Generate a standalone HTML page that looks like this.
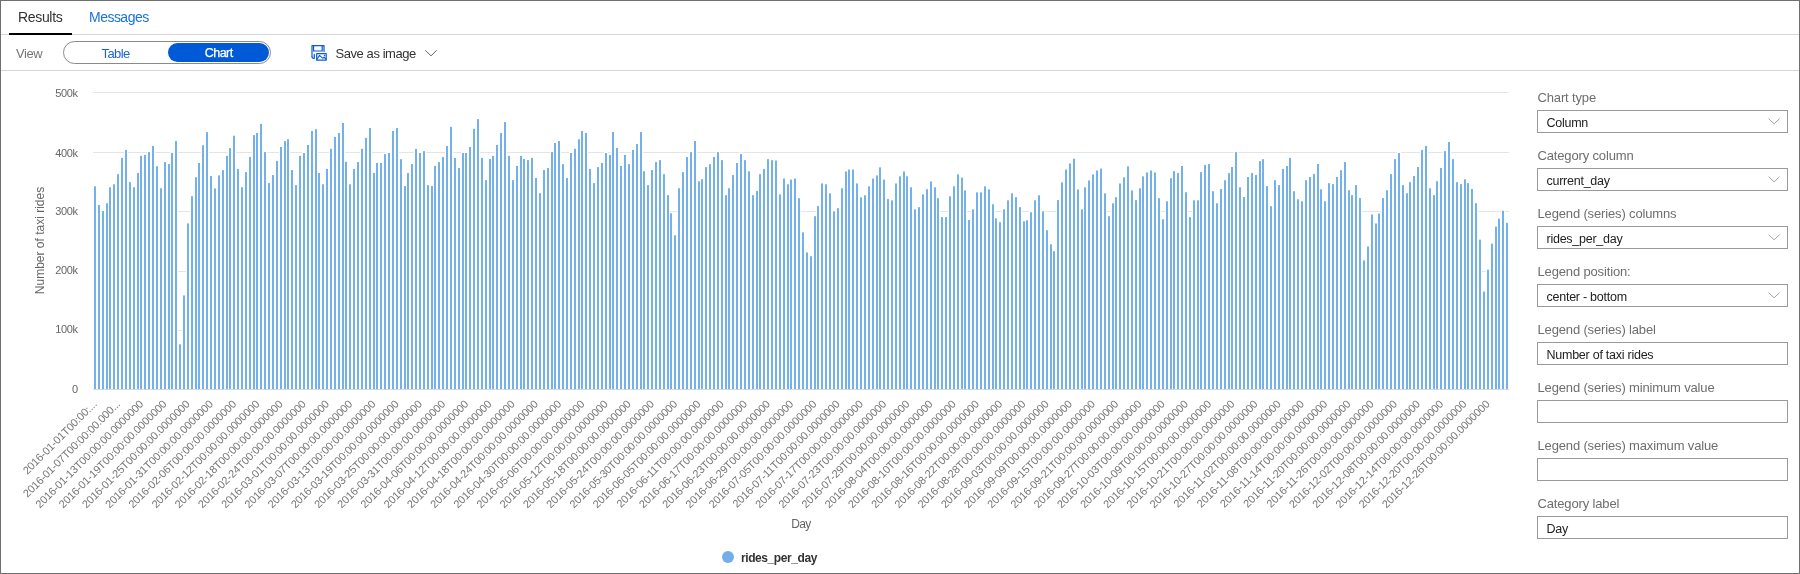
<!DOCTYPE html>
<html><head><meta charset="utf-8">
<style>
html,body{margin:0;padding:0;}
body{width:1800px;height:574px;position:relative;overflow:hidden;background:#fff;font-family:"Liberation Sans",sans-serif;}
.wrap{position:absolute;left:0;top:0;width:1800px;height:574px;will-change:transform;}
.frame{position:absolute;left:0;top:0;width:1798px;height:572px;border:1px solid #6f6f6f;}
.abs{position:absolute;white-space:nowrap;}
.lab{position:absolute;left:1537.5px;font-size:13px;color:#6e6e6e;white-space:nowrap;letter-spacing:-0.15px;}
.box{position:absolute;left:1537px;width:249px;height:21px;border:1px solid #9a9a9a;background:#fff;}
.box span{position:absolute;left:8.5px;top:5px;font-size:12.5px;color:#222;white-space:nowrap;letter-spacing:-0.25px;}
.box .chev{position:absolute;left:230px;top:6.6px;}
</style></head><body><div class="wrap">
<div class="abs" style="left:0;top:34px;width:1800px;height:1px;background:#d6d6d6"></div>
<div class="abs" style="left:9px;top:33px;width:63px;height:2px;background:#000"></div>
<div class="abs" style="left:18px;top:9px;font-size:14px;color:#333;letter-spacing:-0.33px">Results</div>
<div class="abs" style="left:89px;top:9px;font-size:14px;color:#1a73e0;letter-spacing:-0.52px">Messages</div>
<div class="abs" style="left:16px;top:46px;font-size:13px;color:#767676;letter-spacing:-0.4px">View</div>
<div class="abs" style="left:63px;top:41px;width:206px;height:21px;border:1px solid #8a8a8a;border-radius:12px"></div>
<div class="abs" style="left:168px;top:43px;width:101px;height:19px;background:#005ad8;border-radius:10px"></div>
<div class="abs" style="left:101.5px;top:46px;font-size:13px;color:#1f63d8;letter-spacing:-0.6px">Table</div>
<div class="abs" style="left:204.8px;top:46px;font-size:12.5px;color:#fff;letter-spacing:-0.55px;-webkit-text-stroke:0.25px #fff">Chart</div>
<svg class="abs" style="left:308px;top:42px" width="22" height="22" viewBox="0 0 22 22">
<g fill="none" stroke="#0b5ad8" stroke-width="1.2" stroke-linejoin="round" stroke-linecap="round">
<path d="M4 14.8 V3.6 H16 V9.6"/>
<path d="M4 14.8 Q4 16.3 5.5 16.3 H6.3 V12.3"/>
<path d="M5.55 3.7 V9 H14.2 V3.7"/>
<rect x="8.7" y="11.6" width="9.5" height="6.6"/>
<path d="M9.3 16.8 L11.5 13.4 L14.8 16.3 L16.1 15.2 L17.8 17" stroke-width="1.1"/>
</g>
<circle cx="16.5" cy="13.4" r="0.75" fill="#0b5ad8"/>
</svg>
<div class="abs" style="left:335.5px;top:45.6px;font-size:13px;color:#333;letter-spacing:-0.43px">Save as image</div>
<svg class="abs" style="left:424px;top:49px" width="14" height="8" viewBox="0 0 14 8"><path d="M1.3 1.3 L7 6.8 L12.7 1.3" fill="none" stroke="#666" stroke-width="1"/></svg>
<div class="abs" style="left:0;top:70px;width:1800px;height:1px;background:#d6d6d6"></div>
<svg width="1520" height="574" viewBox="0 0 1520 574" style="position:absolute;left:0;top:0">
<g><rect x="93" y="92" width="1416" height="1" fill="#e5e5e5"/><rect x="93" y="152" width="1416" height="1" fill="#e5e5e5"/><rect x="93" y="211" width="1416" height="1" fill="#e5e5e5"/><rect x="93" y="271" width="1416" height="1" fill="#e5e5e5"/><rect x="93" y="330" width="1416" height="1" fill="#e5e5e5"/><rect x="93" y="389" width="1416" height="1" fill="#d3d8ea"/></g>
<g fill="#ffffff"><rect x="93" y="184.81" width="4" height="204.19"/><rect x="97" y="203.53" width="4" height="185.47"/><rect x="101" y="209.58" width="4" height="179.42"/><rect x="105" y="201.75" width="4" height="187.25"/><rect x="108" y="185.76" width="4" height="203.24"/><rect x="112" y="182.80" width="4" height="206.20"/><rect x="116" y="172.72" width="4" height="216.28"/><rect x="120" y="156.43" width="4" height="232.57"/><rect x="124" y="148.43" width="4" height="240.57"/><rect x="128" y="180.66" width="4" height="208.34"/><rect x="132" y="185.76" width="4" height="203.24"/><rect x="136" y="171.54" width="4" height="217.46"/><rect x="139" y="154.35" width="4" height="234.65"/><rect x="143" y="153.47" width="4" height="235.53"/><rect x="147" y="150.56" width="4" height="238.44"/><rect x="151" y="144.46" width="4" height="244.54"/><rect x="155" y="164.78" width="4" height="224.22"/><rect x="159" y="186.76" width="4" height="202.24"/><rect x="163" y="160.58" width="4" height="228.42"/><rect x="167" y="162.53" width="4" height="226.47"/><rect x="170" y="151.39" width="4" height="237.61"/><rect x="174" y="139.54" width="4" height="249.46"/><rect x="178" y="342.83" width="4" height="46.17"/><rect x="182" y="293.95" width="4" height="95.05"/><rect x="186" y="221.90" width="4" height="167.10"/><rect x="190" y="194.65" width="4" height="194.35"/><rect x="194" y="175.69" width="4" height="213.31"/><rect x="197" y="161.47" width="4" height="227.53"/><rect x="201" y="143.69" width="4" height="245.31"/><rect x="205" y="130.65" width="4" height="258.35"/><rect x="209" y="174.50" width="4" height="214.50"/><rect x="213" y="186.94" width="4" height="202.06"/><rect x="217" y="173.91" width="4" height="215.09"/><rect x="221" y="168.57" width="4" height="220.43"/><rect x="225" y="154.35" width="4" height="234.65"/><rect x="228" y="146.65" width="4" height="242.35"/><rect x="232" y="134.21" width="4" height="254.79"/><rect x="236" y="167.39" width="4" height="221.61"/><rect x="240" y="185.76" width="4" height="203.24"/><rect x="244" y="170.65" width="4" height="218.35"/><rect x="248" y="155.54" width="4" height="233.46"/><rect x="252" y="133.62" width="4" height="255.38"/><rect x="255" y="131.48" width="4" height="257.52"/><rect x="259" y="122.36" width="4" height="266.64"/><rect x="263" y="150.56" width="4" height="238.44"/><rect x="267" y="181.61" width="4" height="207.39"/><rect x="271" y="173.55" width="4" height="215.45"/><rect x="275" y="159.39" width="4" height="229.61"/><rect x="279" y="145.47" width="4" height="243.53"/><rect x="283" y="139.54" width="4" height="249.46"/><rect x="286" y="137.76" width="4" height="251.24"/><rect x="290" y="168.57" width="4" height="220.43"/><rect x="294" y="183.62" width="4" height="205.38"/><rect x="298" y="154.35" width="4" height="234.65"/><rect x="302" y="151.51" width="4" height="237.49"/><rect x="306" y="143.45" width="4" height="245.55"/><rect x="310" y="129.47" width="4" height="259.53"/><rect x="314" y="127.69" width="4" height="261.31"/><rect x="317" y="171.54" width="4" height="217.46"/><rect x="321" y="182.80" width="4" height="206.20"/><rect x="325" y="167.39" width="4" height="221.61"/><rect x="329" y="147.36" width="4" height="241.64"/><rect x="333" y="135.40" width="4" height="253.60"/><rect x="337" y="131.48" width="4" height="257.52"/><rect x="341" y="121.41" width="4" height="267.59"/><rect x="344" y="160.28" width="4" height="228.72"/><rect x="348" y="182.80" width="4" height="206.20"/><rect x="352" y="167.39" width="4" height="221.61"/><rect x="356" y="160.58" width="4" height="228.42"/><rect x="360" y="147.36" width="4" height="241.64"/><rect x="364" y="136.34" width="4" height="252.66"/><rect x="368" y="126.51" width="4" height="262.49"/><rect x="372" y="171.54" width="4" height="217.46"/><rect x="375" y="161.47" width="4" height="227.53"/><rect x="379" y="161.47" width="4" height="227.53"/><rect x="383" y="152.58" width="4" height="236.42"/><rect x="387" y="151.51" width="4" height="237.49"/><rect x="391" y="129.47" width="4" height="259.53"/><rect x="395" y="126.51" width="4" height="262.49"/><rect x="399" y="157.67" width="4" height="231.33"/><rect x="403" y="184.57" width="4" height="204.43"/><rect x="406" y="171.54" width="4" height="217.46"/><rect x="410" y="162.65" width="4" height="226.35"/><rect x="414" y="147.36" width="4" height="241.64"/><rect x="418" y="151.51" width="4" height="237.49"/><rect x="422" y="149.62" width="4" height="239.38"/><rect x="426" y="183.62" width="4" height="205.38"/><rect x="430" y="184.57" width="4" height="204.43"/><rect x="433" y="164.43" width="4" height="224.57"/><rect x="437" y="160.58" width="4" height="228.42"/><rect x="441" y="155.54" width="4" height="233.46"/><rect x="445" y="144.46" width="4" height="244.54"/><rect x="449" y="125.32" width="4" height="263.68"/><rect x="453" y="156.43" width="4" height="232.57"/><rect x="457" y="166.44" width="4" height="222.56"/><rect x="461" y="151.51" width="4" height="237.49"/><rect x="464" y="151.51" width="4" height="237.49"/><rect x="468" y="145.47" width="4" height="243.53"/><rect x="472" y="127.28" width="4" height="261.72"/><rect x="476" y="117.62" width="4" height="271.38"/><rect x="480" y="156.43" width="4" height="232.57"/><rect x="484" y="178.65" width="4" height="210.35"/><rect x="488" y="157.44" width="4" height="231.56"/><rect x="491" y="154.35" width="4" height="234.65"/><rect x="495" y="143.45" width="4" height="245.55"/><rect x="499" y="131.48" width="4" height="257.52"/><rect x="503" y="120.58" width="4" height="268.42"/><rect x="507" y="154.35" width="4" height="234.65"/><rect x="511" y="178.65" width="4" height="210.35"/><rect x="515" y="164.43" width="4" height="224.57"/><rect x="519" y="154.35" width="4" height="234.65"/><rect x="522" y="157.44" width="4" height="231.56"/><rect x="526" y="158.62" width="4" height="230.38"/><rect x="530" y="156.43" width="4" height="232.57"/><rect x="534" y="176.51" width="4" height="212.49"/><rect x="538" y="191.68" width="4" height="197.32"/><rect x="542" y="168.57" width="4" height="220.43"/><rect x="546" y="166.44" width="4" height="222.56"/><rect x="550" y="150.56" width="4" height="238.44"/><rect x="553" y="141.50" width="4" height="247.50"/><rect x="557" y="139.54" width="4" height="249.46"/><rect x="561" y="162.65" width="4" height="226.35"/><rect x="565" y="176.51" width="4" height="212.49"/><rect x="569" y="151.51" width="4" height="237.49"/><rect x="573" y="147.36" width="4" height="241.64"/><rect x="577" y="137.76" width="4" height="251.24"/><rect x="580" y="129.47" width="4" height="259.53"/><rect x="584" y="131.48" width="4" height="257.52"/><rect x="588" y="167.39" width="4" height="221.61"/><rect x="592" y="181.61" width="4" height="207.39"/><rect x="596" y="165.61" width="4" height="223.39"/><rect x="600" y="161.47" width="4" height="227.53"/><rect x="604" y="151.51" width="4" height="237.49"/><rect x="608" y="153.47" width="4" height="235.53"/><rect x="611" y="130.48" width="4" height="258.52"/><rect x="615" y="146.42" width="4" height="242.58"/><rect x="619" y="164.43" width="4" height="224.57"/><rect x="623" y="153.47" width="4" height="235.53"/><rect x="627" y="162.65" width="4" height="226.35"/><rect x="631" y="148.43" width="4" height="240.57"/><rect x="635" y="142.50" width="4" height="246.50"/><rect x="639" y="130.48" width="4" height="258.52"/><rect x="642" y="169.76" width="4" height="219.24"/><rect x="646" y="183.62" width="4" height="205.38"/><rect x="650" y="168.57" width="4" height="220.43"/><rect x="654" y="160.58" width="4" height="228.42"/><rect x="658" y="158.62" width="4" height="230.38"/><rect x="662" y="172.72" width="4" height="216.28"/><rect x="666" y="193.64" width="4" height="195.36"/><rect x="669" y="211.83" width="4" height="177.17"/><rect x="673" y="233.75" width="4" height="155.25"/><rect x="677" y="186.76" width="4" height="202.24"/><rect x="681" y="170.65" width="4" height="218.35"/><rect x="685" y="155.54" width="4" height="233.46"/><rect x="689" y="150.56" width="4" height="238.44"/><rect x="693" y="139.54" width="4" height="249.46"/><rect x="697" y="179.83" width="4" height="209.17"/><rect x="700" y="177.76" width="4" height="211.24"/><rect x="704" y="165.61" width="4" height="223.39"/><rect x="708" y="162.65" width="4" height="226.35"/><rect x="712" y="155.54" width="4" height="233.46"/><rect x="716" y="150.56" width="4" height="238.44"/><rect x="720" y="158.62" width="4" height="230.38"/><rect x="724" y="193.64" width="4" height="195.36"/><rect x="727" y="186.76" width="4" height="202.24"/><rect x="731" y="173.55" width="4" height="215.45"/><rect x="735" y="161.47" width="4" height="227.53"/><rect x="739" y="152.58" width="4" height="236.42"/><rect x="743" y="158.62" width="4" height="230.38"/><rect x="747" y="169.76" width="4" height="219.24"/><rect x="751" y="193.64" width="4" height="195.36"/><rect x="755" y="189.49" width="4" height="199.51"/><rect x="758" y="172.72" width="4" height="216.28"/><rect x="762" y="167.39" width="4" height="221.61"/><rect x="766" y="157.67" width="4" height="231.33"/><rect x="770" y="158.62" width="4" height="230.38"/><rect x="774" y="159.09" width="4" height="229.91"/><rect x="778" y="192.87" width="4" height="196.13"/><rect x="782" y="177.05" width="4" height="211.95"/><rect x="786" y="182.80" width="4" height="206.20"/><rect x="789" y="178.06" width="4" height="210.94"/><rect x="793" y="177.05" width="4" height="211.95"/><rect x="797" y="196.72" width="4" height="192.28"/><rect x="801" y="230.91" width="4" height="158.09"/><rect x="805" y="250.93" width="4" height="138.07"/><rect x="809" y="254.72" width="4" height="134.28"/><rect x="813" y="214.67" width="4" height="174.33"/><rect x="816" y="204.72" width="4" height="184.28"/><rect x="820" y="181.91" width="4" height="207.09"/><rect x="824" y="182.80" width="4" height="206.20"/><rect x="828" y="191.86" width="4" height="197.14"/><rect x="832" y="209.81" width="4" height="179.19"/><rect x="836" y="206.67" width="4" height="182.33"/><rect x="840" y="186.76" width="4" height="202.24"/><rect x="844" y="170.00" width="4" height="219.00"/><rect x="847" y="168.04" width="4" height="220.96"/><rect x="851" y="168.04" width="4" height="220.96"/><rect x="855" y="181.91" width="4" height="207.09"/><rect x="859" y="195.83" width="4" height="193.17"/><rect x="863" y="193.76" width="4" height="195.24"/><rect x="867" y="184.81" width="4" height="204.19"/><rect x="871" y="177.05" width="4" height="211.95"/><rect x="875" y="173.91" width="4" height="215.09"/><rect x="878" y="165.85" width="4" height="223.15"/><rect x="882" y="178.06" width="4" height="210.94"/><rect x="886" y="197.61" width="4" height="191.39"/><rect x="890" y="198.85" width="4" height="190.15"/><rect x="894" y="181.91" width="4" height="207.09"/><rect x="898" y="174.86" width="4" height="214.14"/><rect x="902" y="170.00" width="4" height="219.00"/><rect x="905" y="174.86" width="4" height="214.14"/><rect x="909" y="185.76" width="4" height="203.24"/><rect x="913" y="207.86" width="4" height="181.14"/><rect x="917" y="205.67" width="4" height="183.33"/><rect x="921" y="192.87" width="4" height="196.13"/><rect x="925" y="187.71" width="4" height="201.29"/><rect x="929" y="179.95" width="4" height="209.05"/><rect x="933" y="185.76" width="4" height="203.24"/><rect x="936" y="196.72" width="4" height="192.28"/><rect x="940" y="215.62" width="4" height="173.38"/><rect x="944" y="215.62" width="4" height="173.38"/><rect x="948" y="194.76" width="4" height="194.24"/><rect x="952" y="184.81" width="4" height="204.19"/><rect x="956" y="172.90" width="4" height="216.10"/><rect x="960" y="176.04" width="4" height="212.96"/><rect x="963" y="188.90" width="4" height="200.10"/><rect x="967" y="218.52" width="4" height="170.48"/><rect x="971" y="207.86" width="4" height="181.14"/><rect x="975" y="190.85" width="4" height="198.15"/><rect x="979" y="190.85" width="4" height="198.15"/><rect x="983" y="184.81" width="4" height="204.19"/><rect x="987" y="187.95" width="4" height="201.05"/><rect x="991" y="202.76" width="4" height="186.24"/><rect x="994" y="216.86" width="4" height="172.14"/><rect x="998" y="220.72" width="4" height="168.28"/><rect x="1002" y="207.86" width="4" height="181.14"/><rect x="1006" y="198.85" width="4" height="190.15"/><rect x="1010" y="191.86" width="4" height="197.14"/><rect x="1014" y="195.71" width="4" height="193.29"/><rect x="1018" y="205.67" width="4" height="183.33"/><rect x="1022" y="219.77" width="4" height="169.23"/><rect x="1025" y="218.82" width="4" height="170.18"/><rect x="1029" y="210.76" width="4" height="178.24"/><rect x="1033" y="198.85" width="4" height="190.15"/><rect x="1037" y="193.76" width="4" height="195.24"/><rect x="1041" y="209.81" width="4" height="179.19"/><rect x="1045" y="228.77" width="4" height="160.23"/><rect x="1049" y="242.82" width="4" height="146.18"/><rect x="1052" y="249.63" width="4" height="139.37"/><rect x="1056" y="198.61" width="4" height="190.39"/><rect x="1060" y="180.90" width="4" height="208.10"/><rect x="1064" y="168.04" width="4" height="220.96"/><rect x="1068" y="162.00" width="4" height="227.00"/><rect x="1072" y="157.14" width="4" height="231.86"/><rect x="1076" y="187.95" width="4" height="201.05"/><rect x="1080" y="207.86" width="4" height="181.14"/><rect x="1083" y="185.76" width="4" height="203.24"/><rect x="1087" y="178.94" width="4" height="210.06"/><rect x="1091" y="172.90" width="4" height="216.10"/><rect x="1095" y="168.99" width="4" height="220.01"/><rect x="1099" y="167.09" width="4" height="221.91"/><rect x="1103" y="191.86" width="4" height="197.14"/><rect x="1107" y="214.67" width="4" height="174.33"/><rect x="1111" y="201.75" width="4" height="187.25"/><rect x="1114" y="195.71" width="4" height="193.29"/><rect x="1118" y="181.91" width="4" height="207.09"/><rect x="1122" y="175.80" width="4" height="213.20"/><rect x="1126" y="164.90" width="4" height="224.10"/><rect x="1130" y="188.90" width="4" height="200.10"/><rect x="1134" y="198.61" width="4" height="190.39"/><rect x="1138" y="186.76" width="4" height="202.24"/><rect x="1141" y="174.86" width="4" height="214.14"/><rect x="1145" y="170.94" width="4" height="218.06"/><rect x="1149" y="168.99" width="4" height="220.01"/><rect x="1153" y="170.94" width="4" height="218.06"/><rect x="1157" y="196.72" width="4" height="192.28"/><rect x="1161" y="217.75" width="4" height="171.25"/><rect x="1165" y="199.74" width="4" height="189.26"/><rect x="1169" y="176.75" width="4" height="212.25"/><rect x="1172" y="169.64" width="4" height="219.36"/><rect x="1176" y="171.60" width="4" height="217.40"/><rect x="1180" y="164.49" width="4" height="224.51"/><rect x="1184" y="190.73" width="4" height="198.27"/><rect x="1188" y="215.68" width="4" height="173.32"/><rect x="1192" y="198.79" width="4" height="190.21"/><rect x="1196" y="198.79" width="4" height="190.21"/><rect x="1199" y="170.65" width="4" height="218.35"/><rect x="1203" y="163.54" width="4" height="225.46"/><rect x="1207" y="162.53" width="4" height="226.47"/><rect x="1211" y="189.73" width="4" height="199.27"/><rect x="1215" y="201.75" width="4" height="187.25"/><rect x="1219" y="187.53" width="4" height="201.47"/><rect x="1223" y="178.71" width="4" height="210.29"/><rect x="1227" y="171.60" width="4" height="217.40"/><rect x="1230" y="165.49" width="4" height="223.51"/><rect x="1234" y="150.56" width="4" height="238.44"/><rect x="1238" y="185.82" width="4" height="203.18"/><rect x="1242" y="195.59" width="4" height="193.41"/><rect x="1246" y="175.51" width="4" height="213.49"/><rect x="1250" y="171.60" width="4" height="217.40"/><rect x="1254" y="173.55" width="4" height="215.45"/><rect x="1258" y="159.63" width="4" height="229.37"/><rect x="1261" y="157.67" width="4" height="231.33"/><rect x="1265" y="184.57" width="4" height="204.43"/><rect x="1269" y="204.72" width="4" height="184.28"/><rect x="1273" y="178.71" width="4" height="210.29"/><rect x="1277" y="183.62" width="4" height="205.38"/><rect x="1281" y="167.45" width="4" height="221.55"/><rect x="1285" y="164.49" width="4" height="224.51"/><rect x="1288" y="156.43" width="4" height="232.57"/><rect x="1292" y="189.73" width="4" height="199.27"/><rect x="1296" y="197.79" width="4" height="191.21"/><rect x="1300" y="199.74" width="4" height="189.26"/><rect x="1304" y="178.71" width="4" height="210.29"/><rect x="1308" y="175.51" width="4" height="213.49"/><rect x="1312" y="172.60" width="4" height="216.40"/><rect x="1316" y="162.53" width="4" height="226.47"/><rect x="1319" y="187.77" width="4" height="201.23"/><rect x="1323" y="199.74" width="4" height="189.26"/><rect x="1327" y="181.67" width="4" height="207.33"/><rect x="1331" y="182.62" width="4" height="206.38"/><rect x="1335" y="175.51" width="4" height="213.49"/><rect x="1339" y="168.69" width="4" height="220.31"/><rect x="1343" y="160.58" width="4" height="228.42"/><rect x="1347" y="188.72" width="4" height="200.28"/><rect x="1350" y="193.64" width="4" height="195.36"/><rect x="1354" y="183.62" width="4" height="205.38"/><rect x="1358" y="196.60" width="4" height="192.40"/><rect x="1362" y="258.93" width="4" height="130.07"/><rect x="1366" y="245.01" width="4" height="143.99"/><rect x="1370" y="213.01" width="4" height="175.99"/><rect x="1374" y="221.90" width="4" height="167.10"/><rect x="1377" y="212.01" width="4" height="176.99"/><rect x="1381" y="196.60" width="4" height="192.40"/><rect x="1385" y="188.72" width="4" height="200.28"/><rect x="1389" y="172.60" width="4" height="216.40"/><rect x="1393" y="157.67" width="4" height="231.33"/><rect x="1397" y="151.51" width="4" height="237.49"/><rect x="1401" y="183.62" width="4" height="205.38"/><rect x="1405" y="191.68" width="4" height="197.32"/><rect x="1408" y="180.66" width="4" height="208.34"/><rect x="1412" y="174.50" width="4" height="214.50"/><rect x="1416" y="165.49" width="4" height="223.51"/><rect x="1420" y="148.61" width="4" height="240.39"/><rect x="1424" y="144.46" width="4" height="244.54"/><rect x="1428" y="186.76" width="4" height="202.24"/><rect x="1432" y="193.64" width="4" height="195.36"/><rect x="1435" y="179.71" width="4" height="209.29"/><rect x="1439" y="166.44" width="4" height="222.56"/><rect x="1443" y="149.62" width="4" height="239.38"/><rect x="1447" y="140.49" width="4" height="248.51"/><rect x="1451" y="157.67" width="4" height="231.33"/><rect x="1455" y="180.66" width="4" height="208.34"/><rect x="1459" y="182.62" width="4" height="206.38"/><rect x="1463" y="177.76" width="4" height="211.24"/><rect x="1466" y="181.61" width="4" height="207.39"/><rect x="1470" y="187.53" width="4" height="201.47"/><rect x="1474" y="201.75" width="4" height="187.25"/><rect x="1478" y="238.19" width="4" height="150.81"/><rect x="1482" y="290.04" width="4" height="98.96"/><rect x="1486" y="268.12" width="4" height="120.88"/><rect x="1490" y="242.16" width="4" height="146.84"/><rect x="1494" y="225.10" width="4" height="163.90"/><rect x="1497" y="217.16" width="4" height="171.84"/><rect x="1501" y="209.28" width="4" height="179.72"/><rect x="1505" y="221.31" width="4" height="167.69"/></g>
<g fill="#74b1ea"><rect x="94" y="186.31" width="2" height="202.69"/><rect x="98" y="205.03" width="2" height="183.97"/><rect x="102" y="211.08" width="2" height="177.92"/><rect x="106" y="203.25" width="2" height="185.75"/><rect x="109" y="187.26" width="2" height="201.74"/><rect x="113" y="184.30" width="2" height="204.70"/><rect x="117" y="174.22" width="2" height="214.78"/><rect x="121" y="157.93" width="2" height="231.07"/><rect x="125" y="149.93" width="2" height="239.07"/><rect x="129" y="182.16" width="2" height="206.84"/><rect x="133" y="187.26" width="2" height="201.74"/><rect x="137" y="173.04" width="2" height="215.96"/><rect x="140" y="155.85" width="2" height="233.15"/><rect x="144" y="154.97" width="2" height="234.03"/><rect x="148" y="152.06" width="2" height="236.94"/><rect x="152" y="145.96" width="2" height="243.04"/><rect x="156" y="166.28" width="2" height="222.72"/><rect x="160" y="188.26" width="2" height="200.74"/><rect x="164" y="162.08" width="2" height="226.92"/><rect x="168" y="164.03" width="2" height="224.97"/><rect x="171" y="152.89" width="2" height="236.11"/><rect x="175" y="141.04" width="2" height="247.96"/><rect x="179" y="344.33" width="2" height="44.67"/><rect x="183" y="295.45" width="2" height="93.55"/><rect x="187" y="223.40" width="2" height="165.60"/><rect x="191" y="196.15" width="2" height="192.85"/><rect x="195" y="177.19" width="2" height="211.81"/><rect x="198" y="162.97" width="2" height="226.03"/><rect x="202" y="145.19" width="2" height="243.81"/><rect x="206" y="132.15" width="2" height="256.85"/><rect x="210" y="176.00" width="2" height="213.00"/><rect x="214" y="188.44" width="2" height="200.56"/><rect x="218" y="175.41" width="2" height="213.59"/><rect x="222" y="170.07" width="2" height="218.93"/><rect x="226" y="155.85" width="2" height="233.15"/><rect x="229" y="148.15" width="2" height="240.85"/><rect x="233" y="135.71" width="2" height="253.29"/><rect x="237" y="168.89" width="2" height="220.11"/><rect x="241" y="187.26" width="2" height="201.74"/><rect x="245" y="172.15" width="2" height="216.85"/><rect x="249" y="157.04" width="2" height="231.96"/><rect x="253" y="135.12" width="2" height="253.88"/><rect x="256" y="132.98" width="2" height="256.02"/><rect x="260" y="123.86" width="2" height="265.14"/><rect x="264" y="152.06" width="2" height="236.94"/><rect x="268" y="183.11" width="2" height="205.89"/><rect x="272" y="175.05" width="2" height="213.95"/><rect x="276" y="160.89" width="2" height="228.11"/><rect x="280" y="146.97" width="2" height="242.03"/><rect x="284" y="141.04" width="2" height="247.96"/><rect x="287" y="139.26" width="2" height="249.74"/><rect x="291" y="170.07" width="2" height="218.93"/><rect x="295" y="185.12" width="2" height="203.88"/><rect x="299" y="155.85" width="2" height="233.15"/><rect x="303" y="153.01" width="2" height="235.99"/><rect x="307" y="144.95" width="2" height="244.05"/><rect x="311" y="130.97" width="2" height="258.03"/><rect x="315" y="129.19" width="2" height="259.81"/><rect x="318" y="173.04" width="2" height="215.96"/><rect x="322" y="184.30" width="2" height="204.70"/><rect x="326" y="168.89" width="2" height="220.11"/><rect x="330" y="148.86" width="2" height="240.14"/><rect x="334" y="136.90" width="2" height="252.10"/><rect x="338" y="132.98" width="2" height="256.02"/><rect x="342" y="122.91" width="2" height="266.09"/><rect x="345" y="161.78" width="2" height="227.22"/><rect x="349" y="184.30" width="2" height="204.70"/><rect x="353" y="168.89" width="2" height="220.11"/><rect x="357" y="162.08" width="2" height="226.92"/><rect x="361" y="148.86" width="2" height="240.14"/><rect x="365" y="137.84" width="2" height="251.16"/><rect x="369" y="128.01" width="2" height="260.99"/><rect x="373" y="173.04" width="2" height="215.96"/><rect x="376" y="162.97" width="2" height="226.03"/><rect x="380" y="162.97" width="2" height="226.03"/><rect x="384" y="154.08" width="2" height="234.92"/><rect x="388" y="153.01" width="2" height="235.99"/><rect x="392" y="130.97" width="2" height="258.03"/><rect x="396" y="128.01" width="2" height="260.99"/><rect x="400" y="159.17" width="2" height="229.83"/><rect x="404" y="186.07" width="2" height="202.93"/><rect x="407" y="173.04" width="2" height="215.96"/><rect x="411" y="164.15" width="2" height="224.85"/><rect x="415" y="148.86" width="2" height="240.14"/><rect x="419" y="153.01" width="2" height="235.99"/><rect x="423" y="151.12" width="2" height="237.88"/><rect x="427" y="185.12" width="2" height="203.88"/><rect x="431" y="186.07" width="2" height="202.93"/><rect x="434" y="165.93" width="2" height="223.07"/><rect x="438" y="162.08" width="2" height="226.92"/><rect x="442" y="157.04" width="2" height="231.96"/><rect x="446" y="145.96" width="2" height="243.04"/><rect x="450" y="126.82" width="2" height="262.18"/><rect x="454" y="157.93" width="2" height="231.07"/><rect x="458" y="167.94" width="2" height="221.06"/><rect x="462" y="153.01" width="2" height="235.99"/><rect x="465" y="153.01" width="2" height="235.99"/><rect x="469" y="146.97" width="2" height="242.03"/><rect x="473" y="128.78" width="2" height="260.22"/><rect x="477" y="119.12" width="2" height="269.88"/><rect x="481" y="157.93" width="2" height="231.07"/><rect x="485" y="180.15" width="2" height="208.85"/><rect x="489" y="158.94" width="2" height="230.06"/><rect x="492" y="155.85" width="2" height="233.15"/><rect x="496" y="144.95" width="2" height="244.05"/><rect x="500" y="132.98" width="2" height="256.02"/><rect x="504" y="122.08" width="2" height="266.92"/><rect x="508" y="155.85" width="2" height="233.15"/><rect x="512" y="180.15" width="2" height="208.85"/><rect x="516" y="165.93" width="2" height="223.07"/><rect x="520" y="155.85" width="2" height="233.15"/><rect x="523" y="158.94" width="2" height="230.06"/><rect x="527" y="160.12" width="2" height="228.88"/><rect x="531" y="157.93" width="2" height="231.07"/><rect x="535" y="178.01" width="2" height="210.99"/><rect x="539" y="193.18" width="2" height="195.82"/><rect x="543" y="170.07" width="2" height="218.93"/><rect x="547" y="167.94" width="2" height="221.06"/><rect x="551" y="152.06" width="2" height="236.94"/><rect x="554" y="143.00" width="2" height="246.00"/><rect x="558" y="141.04" width="2" height="247.96"/><rect x="562" y="164.15" width="2" height="224.85"/><rect x="566" y="178.01" width="2" height="210.99"/><rect x="570" y="153.01" width="2" height="235.99"/><rect x="574" y="148.86" width="2" height="240.14"/><rect x="578" y="139.26" width="2" height="249.74"/><rect x="581" y="130.97" width="2" height="258.03"/><rect x="585" y="132.98" width="2" height="256.02"/><rect x="589" y="168.89" width="2" height="220.11"/><rect x="593" y="183.11" width="2" height="205.89"/><rect x="597" y="167.11" width="2" height="221.89"/><rect x="601" y="162.97" width="2" height="226.03"/><rect x="605" y="153.01" width="2" height="235.99"/><rect x="609" y="154.97" width="2" height="234.03"/><rect x="612" y="131.98" width="2" height="257.02"/><rect x="616" y="147.92" width="2" height="241.08"/><rect x="620" y="165.93" width="2" height="223.07"/><rect x="624" y="154.97" width="2" height="234.03"/><rect x="628" y="164.15" width="2" height="224.85"/><rect x="632" y="149.93" width="2" height="239.07"/><rect x="636" y="144.00" width="2" height="245.00"/><rect x="640" y="131.98" width="2" height="257.02"/><rect x="643" y="171.26" width="2" height="217.74"/><rect x="647" y="185.12" width="2" height="203.88"/><rect x="651" y="170.07" width="2" height="218.93"/><rect x="655" y="162.08" width="2" height="226.92"/><rect x="659" y="160.12" width="2" height="228.88"/><rect x="663" y="174.22" width="2" height="214.78"/><rect x="667" y="195.14" width="2" height="193.86"/><rect x="670" y="213.33" width="2" height="175.67"/><rect x="674" y="235.25" width="2" height="153.75"/><rect x="678" y="188.26" width="2" height="200.74"/><rect x="682" y="172.15" width="2" height="216.85"/><rect x="686" y="157.04" width="2" height="231.96"/><rect x="690" y="152.06" width="2" height="236.94"/><rect x="694" y="141.04" width="2" height="247.96"/><rect x="698" y="181.33" width="2" height="207.67"/><rect x="701" y="179.26" width="2" height="209.74"/><rect x="705" y="167.11" width="2" height="221.89"/><rect x="709" y="164.15" width="2" height="224.85"/><rect x="713" y="157.04" width="2" height="231.96"/><rect x="717" y="152.06" width="2" height="236.94"/><rect x="721" y="160.12" width="2" height="228.88"/><rect x="725" y="195.14" width="2" height="193.86"/><rect x="728" y="188.26" width="2" height="200.74"/><rect x="732" y="175.05" width="2" height="213.95"/><rect x="736" y="162.97" width="2" height="226.03"/><rect x="740" y="154.08" width="2" height="234.92"/><rect x="744" y="160.12" width="2" height="228.88"/><rect x="748" y="171.26" width="2" height="217.74"/><rect x="752" y="195.14" width="2" height="193.86"/><rect x="756" y="190.99" width="2" height="198.01"/><rect x="759" y="174.22" width="2" height="214.78"/><rect x="763" y="168.89" width="2" height="220.11"/><rect x="767" y="159.17" width="2" height="229.83"/><rect x="771" y="160.12" width="2" height="228.88"/><rect x="775" y="160.59" width="2" height="228.41"/><rect x="779" y="194.37" width="2" height="194.63"/><rect x="783" y="178.55" width="2" height="210.45"/><rect x="787" y="184.30" width="2" height="204.70"/><rect x="790" y="179.56" width="2" height="209.44"/><rect x="794" y="178.55" width="2" height="210.45"/><rect x="798" y="198.22" width="2" height="190.78"/><rect x="802" y="232.41" width="2" height="156.59"/><rect x="806" y="252.43" width="2" height="136.57"/><rect x="810" y="256.22" width="2" height="132.78"/><rect x="814" y="216.17" width="2" height="172.83"/><rect x="817" y="206.22" width="2" height="182.78"/><rect x="821" y="183.41" width="2" height="205.59"/><rect x="825" y="184.30" width="2" height="204.70"/><rect x="829" y="193.36" width="2" height="195.64"/><rect x="833" y="211.31" width="2" height="177.69"/><rect x="837" y="208.17" width="2" height="180.83"/><rect x="841" y="188.26" width="2" height="200.74"/><rect x="845" y="171.50" width="2" height="217.50"/><rect x="848" y="169.54" width="2" height="219.46"/><rect x="852" y="169.54" width="2" height="219.46"/><rect x="856" y="183.41" width="2" height="205.59"/><rect x="860" y="197.33" width="2" height="191.67"/><rect x="864" y="195.26" width="2" height="193.74"/><rect x="868" y="186.31" width="2" height="202.69"/><rect x="872" y="178.55" width="2" height="210.45"/><rect x="876" y="175.41" width="2" height="213.59"/><rect x="879" y="167.35" width="2" height="221.65"/><rect x="883" y="179.56" width="2" height="209.44"/><rect x="887" y="199.11" width="2" height="189.89"/><rect x="891" y="200.35" width="2" height="188.65"/><rect x="895" y="183.41" width="2" height="205.59"/><rect x="899" y="176.36" width="2" height="212.64"/><rect x="903" y="171.50" width="2" height="217.50"/><rect x="906" y="176.36" width="2" height="212.64"/><rect x="910" y="187.26" width="2" height="201.74"/><rect x="914" y="209.36" width="2" height="179.64"/><rect x="918" y="207.17" width="2" height="181.83"/><rect x="922" y="194.37" width="2" height="194.63"/><rect x="926" y="189.21" width="2" height="199.79"/><rect x="930" y="181.45" width="2" height="207.55"/><rect x="934" y="187.26" width="2" height="201.74"/><rect x="937" y="198.22" width="2" height="190.78"/><rect x="941" y="217.12" width="2" height="171.88"/><rect x="945" y="217.12" width="2" height="171.88"/><rect x="949" y="196.26" width="2" height="192.74"/><rect x="953" y="186.31" width="2" height="202.69"/><rect x="957" y="174.40" width="2" height="214.60"/><rect x="961" y="177.54" width="2" height="211.46"/><rect x="964" y="190.40" width="2" height="198.60"/><rect x="968" y="220.02" width="2" height="168.98"/><rect x="972" y="209.36" width="2" height="179.64"/><rect x="976" y="192.35" width="2" height="196.65"/><rect x="980" y="192.35" width="2" height="196.65"/><rect x="984" y="186.31" width="2" height="202.69"/><rect x="988" y="189.45" width="2" height="199.55"/><rect x="992" y="204.26" width="2" height="184.74"/><rect x="995" y="218.36" width="2" height="170.64"/><rect x="999" y="222.22" width="2" height="166.78"/><rect x="1003" y="209.36" width="2" height="179.64"/><rect x="1007" y="200.35" width="2" height="188.65"/><rect x="1011" y="193.36" width="2" height="195.64"/><rect x="1015" y="197.21" width="2" height="191.79"/><rect x="1019" y="207.17" width="2" height="181.83"/><rect x="1023" y="221.27" width="2" height="167.73"/><rect x="1026" y="220.32" width="2" height="168.68"/><rect x="1030" y="212.26" width="2" height="176.74"/><rect x="1034" y="200.35" width="2" height="188.65"/><rect x="1038" y="195.26" width="2" height="193.74"/><rect x="1042" y="211.31" width="2" height="177.69"/><rect x="1046" y="230.27" width="2" height="158.73"/><rect x="1050" y="244.32" width="2" height="144.68"/><rect x="1053" y="251.13" width="2" height="137.87"/><rect x="1057" y="200.11" width="2" height="188.89"/><rect x="1061" y="182.40" width="2" height="206.60"/><rect x="1065" y="169.54" width="2" height="219.46"/><rect x="1069" y="163.50" width="2" height="225.50"/><rect x="1073" y="158.64" width="2" height="230.36"/><rect x="1077" y="189.45" width="2" height="199.55"/><rect x="1081" y="209.36" width="2" height="179.64"/><rect x="1084" y="187.26" width="2" height="201.74"/><rect x="1088" y="180.44" width="2" height="208.56"/><rect x="1092" y="174.40" width="2" height="214.60"/><rect x="1096" y="170.49" width="2" height="218.51"/><rect x="1100" y="168.59" width="2" height="220.41"/><rect x="1104" y="193.36" width="2" height="195.64"/><rect x="1108" y="216.17" width="2" height="172.83"/><rect x="1112" y="203.25" width="2" height="185.75"/><rect x="1115" y="197.21" width="2" height="191.79"/><rect x="1119" y="183.41" width="2" height="205.59"/><rect x="1123" y="177.30" width="2" height="211.70"/><rect x="1127" y="166.40" width="2" height="222.60"/><rect x="1131" y="190.40" width="2" height="198.60"/><rect x="1135" y="200.11" width="2" height="188.89"/><rect x="1139" y="188.26" width="2" height="200.74"/><rect x="1142" y="176.36" width="2" height="212.64"/><rect x="1146" y="172.44" width="2" height="216.56"/><rect x="1150" y="170.49" width="2" height="218.51"/><rect x="1154" y="172.44" width="2" height="216.56"/><rect x="1158" y="198.22" width="2" height="190.78"/><rect x="1162" y="219.25" width="2" height="169.75"/><rect x="1166" y="201.24" width="2" height="187.76"/><rect x="1170" y="178.25" width="2" height="210.75"/><rect x="1173" y="171.14" width="2" height="217.86"/><rect x="1177" y="173.10" width="2" height="215.90"/><rect x="1181" y="165.99" width="2" height="223.01"/><rect x="1185" y="192.23" width="2" height="196.77"/><rect x="1189" y="217.18" width="2" height="171.82"/><rect x="1193" y="200.29" width="2" height="188.71"/><rect x="1197" y="200.29" width="2" height="188.71"/><rect x="1200" y="172.15" width="2" height="216.85"/><rect x="1204" y="165.04" width="2" height="223.96"/><rect x="1208" y="164.03" width="2" height="224.97"/><rect x="1212" y="191.23" width="2" height="197.77"/><rect x="1216" y="203.25" width="2" height="185.75"/><rect x="1220" y="189.03" width="2" height="199.97"/><rect x="1224" y="180.21" width="2" height="208.79"/><rect x="1228" y="173.10" width="2" height="215.90"/><rect x="1231" y="166.99" width="2" height="222.01"/><rect x="1235" y="152.06" width="2" height="236.94"/><rect x="1239" y="187.32" width="2" height="201.68"/><rect x="1243" y="197.09" width="2" height="191.91"/><rect x="1247" y="177.01" width="2" height="211.99"/><rect x="1251" y="173.10" width="2" height="215.90"/><rect x="1255" y="175.05" width="2" height="213.95"/><rect x="1259" y="161.13" width="2" height="227.87"/><rect x="1262" y="159.17" width="2" height="229.83"/><rect x="1266" y="186.07" width="2" height="202.93"/><rect x="1270" y="206.22" width="2" height="182.78"/><rect x="1274" y="180.21" width="2" height="208.79"/><rect x="1278" y="185.12" width="2" height="203.88"/><rect x="1282" y="168.95" width="2" height="220.05"/><rect x="1286" y="165.99" width="2" height="223.01"/><rect x="1289" y="157.93" width="2" height="231.07"/><rect x="1293" y="191.23" width="2" height="197.77"/><rect x="1297" y="199.29" width="2" height="189.71"/><rect x="1301" y="201.24" width="2" height="187.76"/><rect x="1305" y="180.21" width="2" height="208.79"/><rect x="1309" y="177.01" width="2" height="211.99"/><rect x="1313" y="174.10" width="2" height="214.90"/><rect x="1317" y="164.03" width="2" height="224.97"/><rect x="1320" y="189.27" width="2" height="199.73"/><rect x="1324" y="201.24" width="2" height="187.76"/><rect x="1328" y="183.17" width="2" height="205.83"/><rect x="1332" y="184.12" width="2" height="204.88"/><rect x="1336" y="177.01" width="2" height="211.99"/><rect x="1340" y="170.19" width="2" height="218.81"/><rect x="1344" y="162.08" width="2" height="226.92"/><rect x="1348" y="190.22" width="2" height="198.78"/><rect x="1351" y="195.14" width="2" height="193.86"/><rect x="1355" y="185.12" width="2" height="203.88"/><rect x="1359" y="198.10" width="2" height="190.90"/><rect x="1363" y="260.43" width="2" height="128.57"/><rect x="1367" y="246.51" width="2" height="142.49"/><rect x="1371" y="214.51" width="2" height="174.49"/><rect x="1375" y="223.40" width="2" height="165.60"/><rect x="1378" y="213.51" width="2" height="175.49"/><rect x="1382" y="198.10" width="2" height="190.90"/><rect x="1386" y="190.22" width="2" height="198.78"/><rect x="1390" y="174.10" width="2" height="214.90"/><rect x="1394" y="159.17" width="2" height="229.83"/><rect x="1398" y="153.01" width="2" height="235.99"/><rect x="1402" y="185.12" width="2" height="203.88"/><rect x="1406" y="193.18" width="2" height="195.82"/><rect x="1409" y="182.16" width="2" height="206.84"/><rect x="1413" y="176.00" width="2" height="213.00"/><rect x="1417" y="166.99" width="2" height="222.01"/><rect x="1421" y="150.11" width="2" height="238.89"/><rect x="1425" y="145.96" width="2" height="243.04"/><rect x="1429" y="188.26" width="2" height="200.74"/><rect x="1433" y="195.14" width="2" height="193.86"/><rect x="1436" y="181.21" width="2" height="207.79"/><rect x="1440" y="167.94" width="2" height="221.06"/><rect x="1444" y="151.12" width="2" height="237.88"/><rect x="1448" y="141.99" width="2" height="247.01"/><rect x="1452" y="159.17" width="2" height="229.83"/><rect x="1456" y="182.16" width="2" height="206.84"/><rect x="1460" y="184.12" width="2" height="204.88"/><rect x="1464" y="179.26" width="2" height="209.74"/><rect x="1467" y="183.11" width="2" height="205.89"/><rect x="1471" y="189.03" width="2" height="199.97"/><rect x="1475" y="203.25" width="2" height="185.75"/><rect x="1479" y="239.69" width="2" height="149.31"/><rect x="1483" y="291.54" width="2" height="97.46"/><rect x="1487" y="269.62" width="2" height="119.38"/><rect x="1491" y="243.66" width="2" height="145.34"/><rect x="1495" y="226.60" width="2" height="162.40"/><rect x="1498" y="218.66" width="2" height="170.34"/><rect x="1502" y="210.78" width="2" height="178.22"/><rect x="1506" y="222.81" width="2" height="166.19"/></g>
<g font-family="Liberation Sans, sans-serif" font-size="11" fill="#666666" letter-spacing="-0.3"><text x="77.8" y="97" text-anchor="end">500k</text><text x="77.8" y="156.5" text-anchor="end">400k</text><text x="77.8" y="215" text-anchor="end">300k</text><text x="77.8" y="274" text-anchor="end">200k</text><text x="77.8" y="333" text-anchor="end">100k</text><text x="77.8" y="393" text-anchor="end">0</text></g>
<g font-family="Liberation Sans, sans-serif" font-size="11" fill="#767676" letter-spacing="-0.17"><text transform="translate(94.93,402) rotate(-45)" text-anchor="end" dy="0.35em">2016-01-01T00:00:...</text><text transform="translate(118.15,402) rotate(-45)" text-anchor="end" dy="0.35em">2016-01-07T00:00:00.000...</text><text transform="translate(141.36,402) rotate(-45)" text-anchor="end" dy="0.35em">2016-01-13T00:00:00.0000000</text><text transform="translate(164.57,402) rotate(-45)" text-anchor="end" dy="0.35em">2016-01-19T00:00:00.0000000</text><text transform="translate(187.79,402) rotate(-45)" text-anchor="end" dy="0.35em">2016-01-25T00:00:00.0000000</text><text transform="translate(211.00,402) rotate(-45)" text-anchor="end" dy="0.35em">2016-01-31T00:00:00.0000000</text><text transform="translate(234.21,402) rotate(-45)" text-anchor="end" dy="0.35em">2016-02-06T00:00:00.0000000</text><text transform="translate(257.43,402) rotate(-45)" text-anchor="end" dy="0.35em">2016-02-12T00:00:00.0000000</text><text transform="translate(280.64,402) rotate(-45)" text-anchor="end" dy="0.35em">2016-02-18T00:00:00.0000000</text><text transform="translate(303.85,402) rotate(-45)" text-anchor="end" dy="0.35em">2016-02-24T00:00:00.0000000</text><text transform="translate(327.07,402) rotate(-45)" text-anchor="end" dy="0.35em">2016-03-01T00:00:00.0000000</text><text transform="translate(350.28,402) rotate(-45)" text-anchor="end" dy="0.35em">2016-03-07T00:00:00.0000000</text><text transform="translate(373.49,402) rotate(-45)" text-anchor="end" dy="0.35em">2016-03-13T00:00:00.0000000</text><text transform="translate(396.70,402) rotate(-45)" text-anchor="end" dy="0.35em">2016-03-19T00:00:00.0000000</text><text transform="translate(419.92,402) rotate(-45)" text-anchor="end" dy="0.35em">2016-03-25T00:00:00.0000000</text><text transform="translate(443.13,402) rotate(-45)" text-anchor="end" dy="0.35em">2016-03-31T00:00:00.0000000</text><text transform="translate(466.34,402) rotate(-45)" text-anchor="end" dy="0.35em">2016-04-06T00:00:00.0000000</text><text transform="translate(489.56,402) rotate(-45)" text-anchor="end" dy="0.35em">2016-04-12T00:00:00.0000000</text><text transform="translate(512.77,402) rotate(-45)" text-anchor="end" dy="0.35em">2016-04-18T00:00:00.0000000</text><text transform="translate(535.98,402) rotate(-45)" text-anchor="end" dy="0.35em">2016-04-24T00:00:00.0000000</text><text transform="translate(559.20,402) rotate(-45)" text-anchor="end" dy="0.35em">2016-04-30T00:00:00.0000000</text><text transform="translate(582.41,402) rotate(-45)" text-anchor="end" dy="0.35em">2016-05-06T00:00:00.0000000</text><text transform="translate(605.62,402) rotate(-45)" text-anchor="end" dy="0.35em">2016-05-12T00:00:00.0000000</text><text transform="translate(628.84,402) rotate(-45)" text-anchor="end" dy="0.35em">2016-05-18T00:00:00.0000000</text><text transform="translate(652.05,402) rotate(-45)" text-anchor="end" dy="0.35em">2016-05-24T00:00:00.0000000</text><text transform="translate(675.26,402) rotate(-45)" text-anchor="end" dy="0.35em">2016-05-30T00:00:00.0000000</text><text transform="translate(698.48,402) rotate(-45)" text-anchor="end" dy="0.35em">2016-06-05T00:00:00.0000000</text><text transform="translate(721.69,402) rotate(-45)" text-anchor="end" dy="0.35em">2016-06-11T00:00:00.0000000</text><text transform="translate(744.90,402) rotate(-45)" text-anchor="end" dy="0.35em">2016-06-17T00:00:00.0000000</text><text transform="translate(768.11,402) rotate(-45)" text-anchor="end" dy="0.35em">2016-06-23T00:00:00.0000000</text><text transform="translate(791.33,402) rotate(-45)" text-anchor="end" dy="0.35em">2016-06-29T00:00:00.0000000</text><text transform="translate(814.54,402) rotate(-45)" text-anchor="end" dy="0.35em">2016-07-05T00:00:00.0000000</text><text transform="translate(837.75,402) rotate(-45)" text-anchor="end" dy="0.35em">2016-07-11T00:00:00.0000000</text><text transform="translate(860.97,402) rotate(-45)" text-anchor="end" dy="0.35em">2016-07-17T00:00:00.0000000</text><text transform="translate(884.18,402) rotate(-45)" text-anchor="end" dy="0.35em">2016-07-23T00:00:00.0000000</text><text transform="translate(907.39,402) rotate(-45)" text-anchor="end" dy="0.35em">2016-07-29T00:00:00.0000000</text><text transform="translate(930.61,402) rotate(-45)" text-anchor="end" dy="0.35em">2016-08-04T00:00:00.0000000</text><text transform="translate(953.82,402) rotate(-45)" text-anchor="end" dy="0.35em">2016-08-10T00:00:00.0000000</text><text transform="translate(977.03,402) rotate(-45)" text-anchor="end" dy="0.35em">2016-08-16T00:00:00.0000000</text><text transform="translate(1000.25,402) rotate(-45)" text-anchor="end" dy="0.35em">2016-08-22T00:00:00.0000000</text><text transform="translate(1023.46,402) rotate(-45)" text-anchor="end" dy="0.35em">2016-08-28T00:00:00.0000000</text><text transform="translate(1046.67,402) rotate(-45)" text-anchor="end" dy="0.35em">2016-09-03T00:00:00.0000000</text><text transform="translate(1069.89,402) rotate(-45)" text-anchor="end" dy="0.35em">2016-09-09T00:00:00.0000000</text><text transform="translate(1093.10,402) rotate(-45)" text-anchor="end" dy="0.35em">2016-09-15T00:00:00.0000000</text><text transform="translate(1116.31,402) rotate(-45)" text-anchor="end" dy="0.35em">2016-09-21T00:00:00.0000000</text><text transform="translate(1139.52,402) rotate(-45)" text-anchor="end" dy="0.35em">2016-09-27T00:00:00.0000000</text><text transform="translate(1162.74,402) rotate(-45)" text-anchor="end" dy="0.35em">2016-10-03T00:00:00.0000000</text><text transform="translate(1185.95,402) rotate(-45)" text-anchor="end" dy="0.35em">2016-10-09T00:00:00.0000000</text><text transform="translate(1209.16,402) rotate(-45)" text-anchor="end" dy="0.35em">2016-10-15T00:00:00.0000000</text><text transform="translate(1232.38,402) rotate(-45)" text-anchor="end" dy="0.35em">2016-10-21T00:00:00.0000000</text><text transform="translate(1255.59,402) rotate(-45)" text-anchor="end" dy="0.35em">2016-10-27T00:00:00.0000000</text><text transform="translate(1278.80,402) rotate(-45)" text-anchor="end" dy="0.35em">2016-11-02T00:00:00.0000000</text><text transform="translate(1302.02,402) rotate(-45)" text-anchor="end" dy="0.35em">2016-11-08T00:00:00.0000000</text><text transform="translate(1325.23,402) rotate(-45)" text-anchor="end" dy="0.35em">2016-11-14T00:00:00.0000000</text><text transform="translate(1348.44,402) rotate(-45)" text-anchor="end" dy="0.35em">2016-11-20T00:00:00.0000000</text><text transform="translate(1371.66,402) rotate(-45)" text-anchor="end" dy="0.35em">2016-11-26T00:00:00.0000000</text><text transform="translate(1394.87,402) rotate(-45)" text-anchor="end" dy="0.35em">2016-12-02T00:00:00.0000000</text><text transform="translate(1418.08,402) rotate(-45)" text-anchor="end" dy="0.35em">2016-12-08T00:00:00.0000000</text><text transform="translate(1441.30,402) rotate(-45)" text-anchor="end" dy="0.35em">2016-12-14T00:00:00.0000000</text><text transform="translate(1464.51,402) rotate(-45)" text-anchor="end" dy="0.35em">2016-12-20T00:00:00.0000000</text><text transform="translate(1487.72,402) rotate(-45)" text-anchor="end" dy="0.35em">2016-12-26T00:00:00.0000000</text></g>
<text transform="translate(44,240.5) rotate(-90)" text-anchor="middle" font-family="Liberation Sans, sans-serif" font-size="12" fill="#666666">Number of taxi rides</text>
<text x="801" y="528" text-anchor="middle" font-family="Liberation Sans, sans-serif" font-size="12" fill="#666666" letter-spacing="-0.6">Day</text>
<circle cx="728" cy="557" r="6" fill="#72aee9"/>
<text x="741" y="562" font-family="Liberation Sans, sans-serif" font-size="12" font-weight="bold" fill="#333333" letter-spacing="-0.42">rides_per_day</text>
</svg>
<div class="lab" style="top:90px">Chart type</div><div class="box" style="top:110px"><span>Column</span><svg class="chev" width="14" height="8" viewBox="0 0 14 8"><path d="M0.6 0.7 L6.1 5.8 L11.6 0.7" fill="none" stroke="#a4a4a4" stroke-width="1"/></svg></div><div class="lab" style="top:148px">Category column</div><div class="box" style="top:168px"><span>current_day</span><svg class="chev" width="14" height="8" viewBox="0 0 14 8"><path d="M0.6 0.7 L6.1 5.8 L11.6 0.7" fill="none" stroke="#a4a4a4" stroke-width="1"/></svg></div><div class="lab" style="top:206px">Legend (series) columns</div><div class="box" style="top:226px"><span>rides_per_day</span><svg class="chev" width="14" height="8" viewBox="0 0 14 8"><path d="M0.6 0.7 L6.1 5.8 L11.6 0.7" fill="none" stroke="#a4a4a4" stroke-width="1"/></svg></div><div class="lab" style="top:264px">Legend position:</div><div class="box" style="top:284px"><span>center - bottom</span><svg class="chev" width="14" height="8" viewBox="0 0 14 8"><path d="M0.6 0.7 L6.1 5.8 L11.6 0.7" fill="none" stroke="#a4a4a4" stroke-width="1"/></svg></div><div class="lab" style="top:322px">Legend (series) label</div><div class="box" style="top:342px"><span>Number of taxi rides</span></div><div class="lab" style="top:380px">Legend (series) minimum value</div><div class="box" style="top:400px"><span></span></div><div class="lab" style="top:438px">Legend (series) maximum value</div><div class="box" style="top:458px"><span></span></div><div class="lab" style="top:496px">Category label</div><div class="box" style="top:516px"><span>Day</span></div>
<div class="frame"></div>
</div></body></html>
